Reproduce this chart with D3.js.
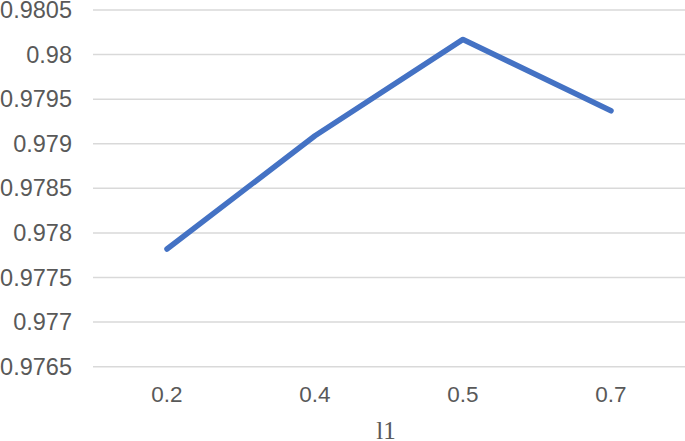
<!DOCTYPE html>
<html>
<head>
<meta charset="utf-8">
<script src="https://cdn.jsdelivr.net/npm/d3@7/dist/d3.min.js"></script>
<style>
html,body{margin:0;padding:0;background:#fff;}
svg{display:block;}
</style>
</head>
<body>
<svg id="chart" width="685" height="441"></svg>
<script>
const categories = ["0.2", "0.4", "0.5", "0.7"];
const values = [0.97782, 0.97909, 0.98017, 0.97937];
const yTicks = [0.9765, 0.977, 0.9775, 0.978, 0.9785, 0.979, 0.9795, 0.98, 0.9805];
const yTickLabels = ["0.9765", "0.977", "0.9775", "0.978", "0.9785", "0.979", "0.9795", "0.98", "0.9805"];
const xTitle = "l1";

(function () {
const svg = d3.select("#chart");
const plotLeft = 93, plotRight = 685, plotTop = 10, plotBottom = 366.7;

const x = d3.scaleBand().domain(categories).range([plotLeft, plotRight]);
const y = d3.scaleLinear().domain([0.9765, 0.9805]).range([plotBottom, plotTop]);

// gridlines
svg.append("g").selectAll("line").data(yTicks).join("line")
  .attr("x1", plotLeft).attr("x2", plotRight)
  .attr("y1", d => y(d)).attr("y2", d => y(d))
  .attr("stroke", "#d9d9d9").attr("stroke-width", 1.5);

// y axis labels
const yAxis = d3.axisLeft(y).tickValues(yTicks).tickSize(0).tickPadding(0)
  .tickFormat((d, i) => yTickLabels[i]);
const gy = svg.append("g").attr("transform", "translate(72,0)").call(yAxis);
gy.select(".domain").remove();
gy.selectAll("text").attr("fill", "#595959")
  .style("font-family", "'Liberation Sans', Arial, sans-serif").style("font-size", "23.5px");

// x axis labels
const xAxis = d3.axisBottom(x).tickSize(0).tickPadding(0);
const gx = svg.append("g").attr("transform", "translate(0,386)").call(xAxis);
gx.select(".domain").remove();
gx.selectAll("text").attr("fill", "#595959").attr("dy", "0.71em")
  .style("font-family", "'Liberation Sans', Arial, sans-serif").style("font-size", "22.5px");

// line
const line = d3.line().x((d, i) => x(categories[i]) + x.bandwidth() / 2).y(d => y(d));
svg.append("path").datum(values)
  .attr("d", line)
  .attr("fill", "none")
  .attr("stroke", "#4472C4")
  .attr("stroke-width", 5.5)
  .attr("stroke-linecap", "round")
  .attr("stroke-linejoin", "round");

// x title
svg.append("text")
  .attr("x", (plotLeft + plotRight) / 2 - 3).attr("y", 439)
  .attr("text-anchor", "middle")
  .attr("fill", "#595959")
  .style("font-family", "'Liberation Serif', 'Times New Roman', serif")
  .style("font-size", "25px")
  .text(xTitle);
})();
</script>
</body>
</html>
